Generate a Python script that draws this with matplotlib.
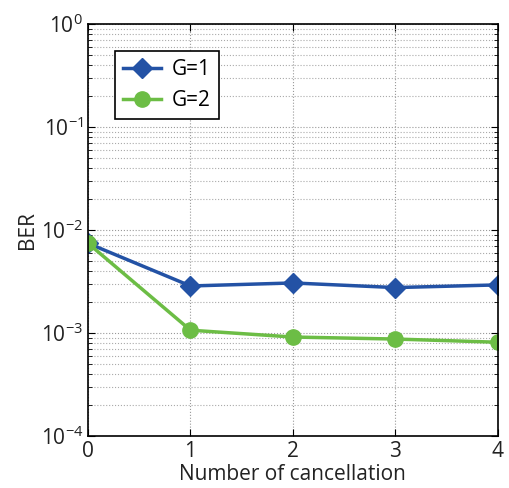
import matplotlib
matplotlib.use("Agg")
import matplotlib.pyplot as plt
from matplotlib.ticker import LogLocator, NullFormatter

x = [0, 1, 2, 3, 4]
g1 = [7.4e-3, 2.85e-3, 3.05e-3, 2.75e-3, 2.92e-3]
g2 = [7.4e-3, 1.06e-3, 9.1e-4, 8.7e-4, 8.1e-4]
labels = ["G=1", "G=2"]

plt.rcParams['font.family'] = ['Open Sans', 'DejaVu Sans']
fig = plt.figure(figsize=(5.09, 4.88), dpi=100)
ax = fig.add_axes([0.173, 0.107, 0.805, 0.844])

ax.semilogy(x, g1, color='#2352a5', lw=2.5, marker='D', ms=10, label=labels[0])
ax.semilogy(x, g2, color='#6cbd45', lw=2.5, marker='o', ms=11, label=labels[1])

ax.set_xlim(0, 4)
ax.set_ylim(1e-4, 1)
ax.set_xticks(x)
ax.yaxis.set_major_locator(LogLocator(base=10, numticks=10))
ax.yaxis.set_minor_locator(LogLocator(base=10, subs=range(2, 10), numticks=100))
ax.yaxis.set_minor_formatter(NullFormatter())
ax.grid(True, which='major', linestyle=':', color='#999999', lw=0.8)
ax.grid(True, which='minor', axis='y', linestyle=':', color='#aaaaaa', lw=0.8)
ax.tick_params(which='both', direction='in', labelsize=15, top=True, right=True,
               labelcolor='#222222')
ax.tick_params(which='major', length=5)
ax.tick_params(which='minor', length=3)
for s in ax.spines.values():
    s.set_linewidth(1.2)

ax.set_xlabel("Number of cancellation", fontsize=15, labelpad=2, color='#222222')
ax.set_ylabel("BER", fontsize=15, labelpad=2, color='#222222')

leg = ax.legend(loc='upper left', bbox_to_anchor=(0.066, 0.934), borderaxespad=0,
                fontsize=15, fancybox=False, edgecolor='black', framealpha=1,
                handlelength=1.8, borderpad=0.4, labelspacing=0.45, handletextpad=0.5)
leg.get_frame().set_linewidth(1.2)

fig.savefig("out.png", dpi=100)
